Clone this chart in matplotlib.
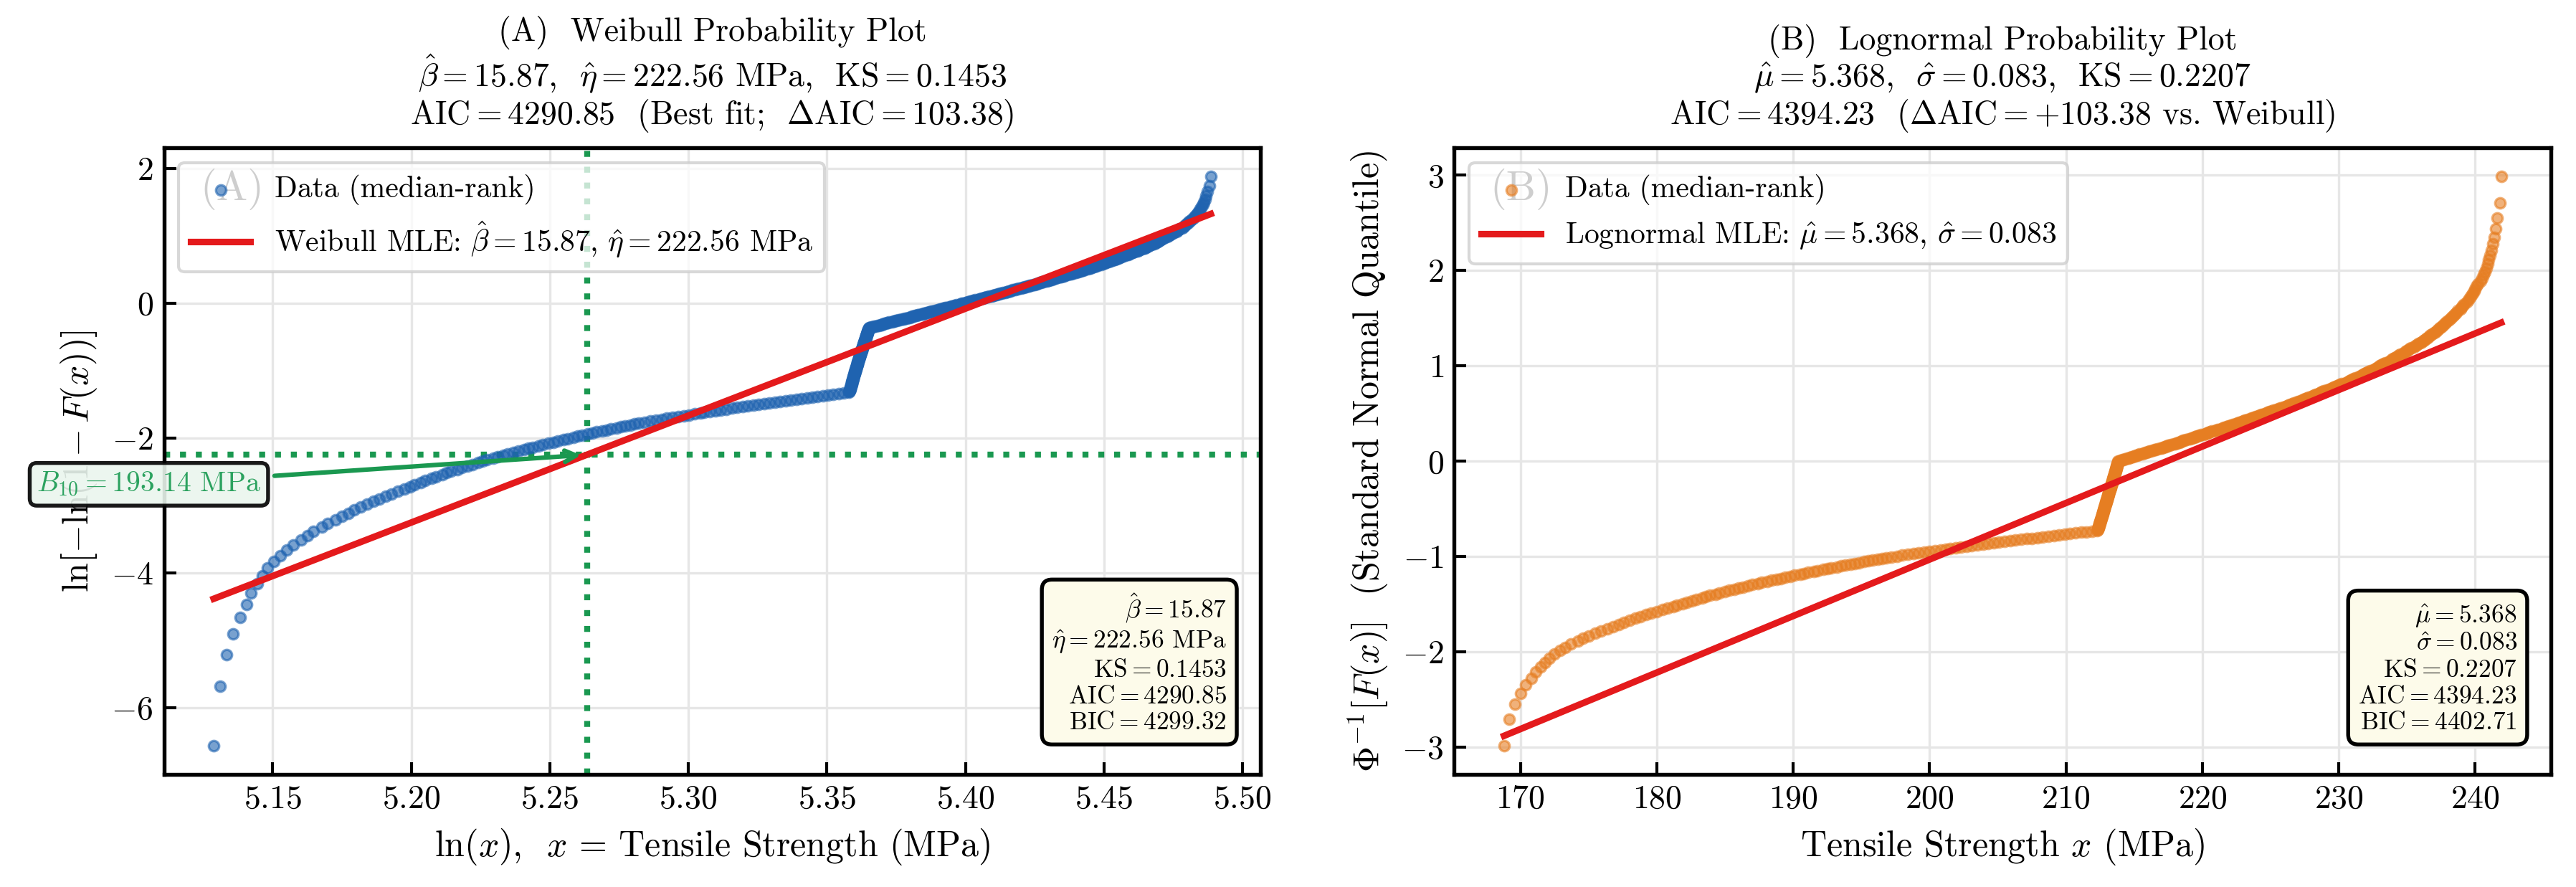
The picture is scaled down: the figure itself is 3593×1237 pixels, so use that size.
from statistics import NormalDist

import matplotlib

matplotlib.use("Agg")
import matplotlib.pyplot as plt
import numpy as np

# sorted tensile strength sample (MPa)
strength_low = [
    168.8, 169.2, 169.6, 170.0, 170.4, 170.8, 171.1, 171.5, 171.8, 172.1,
    172.5, 172.9, 173.3, 173.7, 174.2, 174.6, 175.0, 175.5, 175.9, 176.4,
    176.8, 177.2, 177.6, 178.0, 178.4, 178.8, 179.2, 179.6, 180.0, 180.4,
    180.8, 181.2, 181.5, 181.9, 182.2, 182.6, 182.9, 183.3, 183.6, 183.9,
    184.3, 184.6, 185.0, 185.3, 185.7, 186.0, 186.3, 186.7, 187.0, 187.4,
    187.7, 188.1, 188.4, 188.8, 189.1, 189.4, 189.8, 190.1, 190.5, 190.8,
    191.1, 191.5, 191.8, 192.2, 192.5, 192.8, 193.2, 193.5, 193.8, 194.2,
    194.5, 194.8, 195.2, 195.5, 195.8, 196.2, 196.5, 196.8, 197.2, 197.6,
    198.0, 198.4, 198.8, 199.2, 199.6, 200.0, 200.4, 200.8, 201.2, 201.5,
    201.9, 202.3, 202.7, 203.1, 203.5, 203.9, 204.3, 204.7, 205.1, 205.5,
    205.9, 206.3, 206.7, 207.1, 207.5, 207.9, 208.3, 208.7, 209.1, 209.5,
    209.9, 210.3, 210.7, 211.1, 211.5, 211.9, 212.3,
]
strength_mode = [
    212.31, 212.33, 212.34, 212.36, 212.37, 212.39, 212.40, 212.41, 212.43, 212.44,
    212.45, 212.47, 212.48, 212.49, 212.51, 212.52, 212.53, 212.55, 212.56, 212.57,
    212.58, 212.59, 212.61, 212.62, 212.63, 212.64, 212.66, 212.67, 212.68, 212.69,
    212.70, 212.72, 212.73, 212.74, 212.75, 212.76, 212.78, 212.79, 212.80, 212.81,
    212.82, 212.83, 212.85, 212.86, 212.87, 212.88, 212.89, 212.90, 212.92, 212.93,
    212.94, 212.95, 212.96, 212.97, 212.99, 213.00, 213.01, 213.02, 213.03, 213.04,
    213.05, 213.07, 213.08, 213.09, 213.10, 213.11, 213.12, 213.13, 213.14, 213.16,
    213.17, 213.18, 213.19, 213.20, 213.21, 213.22, 213.23, 213.25, 213.26, 213.27,
    213.28, 213.29, 213.30, 213.31, 213.32, 213.33, 213.34, 213.36, 213.37, 213.38,
    213.39, 213.40, 213.41, 213.42, 213.43, 213.44, 213.45, 213.46, 213.47, 213.48,
    213.50, 213.51, 213.52, 213.53, 213.54, 213.55, 213.56, 213.57, 213.58, 213.59,
    213.60, 213.61, 213.62, 213.63, 213.64, 213.65, 213.66, 213.67, 213.68, 213.69,
    213.70, 213.71, 213.72, 213.73, 213.74, 213.75, 213.76, 213.77, 213.78, 213.79,
    213.80, 213.81, 213.82,
]
strength_high = [
    213.9, 214.0, 214.1, 214.2, 214.3, 214.5, 214.6, 214.7, 214.8, 214.9,
    215.0, 215.1, 215.2, 215.3, 215.4, 215.6, 215.7, 215.8, 215.9, 216.0,
    216.1, 216.2, 216.4, 216.5, 216.6, 216.7, 216.9, 217.0, 217.1, 217.2,
    217.3, 217.4, 217.5, 217.6, 217.7, 217.9, 218.0, 218.1, 218.2, 218.3,
    218.4, 218.5, 218.6, 218.7, 218.8, 219.0, 219.1, 219.2, 219.3, 219.4,
    219.5, 219.6, 219.7, 219.8, 219.9, 220.1, 220.2, 220.3, 220.4, 220.5,
    220.6, 220.7, 220.9, 221.0, 221.1, 221.2, 221.4, 221.5, 221.6, 221.7,
    221.8, 221.9, 222.0, 222.1, 222.2, 222.4, 222.5, 222.6, 222.7, 222.8,
    222.9, 223.0, 223.1, 223.2, 223.3, 223.5, 223.6, 223.7, 223.8, 223.9,
    224.0, 224.1, 224.2, 224.3, 224.4, 224.6, 224.7, 224.8, 224.9, 225.0,
    225.1, 225.2, 225.4, 225.5, 225.6, 225.7, 225.9, 226.0, 226.1, 226.2,
    226.3, 226.4, 226.5, 226.6, 226.7, 226.9, 227.0, 227.1, 227.2, 227.3,
    227.4, 227.5, 227.6, 227.7, 227.8, 228.0, 228.1, 228.2, 228.3, 228.4,
    228.5, 228.6, 228.7, 228.8, 228.9, 229.1, 229.2, 229.3, 229.4, 229.5,
    229.6, 229.7, 229.9, 230.0, 230.1, 230.2, 230.4, 230.5, 230.6, 230.7,
    230.8, 230.9, 231.0, 231.1, 231.2, 231.4, 231.5, 231.6, 231.7, 231.8,
    231.9, 232.0, 232.1, 232.2, 232.3, 232.5, 232.6, 232.7, 232.8, 232.9,
    233.0, 233.1, 233.2, 233.3, 233.4, 233.6, 233.7, 233.8, 233.9, 234.0,
    234.1, 234.2, 234.3, 234.4, 234.5, 234.7, 234.8, 234.9, 235.0, 235.1,
    235.2, 235.3, 235.5, 235.6, 235.7, 235.8, 236.0, 236.1, 236.2, 236.3,
    236.4, 236.5, 236.6, 236.7, 236.8, 237.0, 237.1, 237.2, 237.3, 237.4,
    237.5, 237.6, 237.7, 237.8, 237.9, 238.1, 238.2, 238.3, 238.4, 238.5,
    238.6, 238.7, 238.9, 239.0, 239.1, 239.2, 239.4, 239.5, 239.6, 239.7,
    239.8, 239.9, 240.0, 240.1, 240.2, 240.4, 240.5, 240.6, 240.7, 240.8,
    240.9, 241.0, 241.1, 241.2, 241.3, 241.4, 241.5, 241.6, 241.8, 241.9,
]

# fitted parameters / goodness of fit as printed on the chart
beta_hat, eta_hat = 15.87, 222.56
ks_wb, aic_wb, bic_wb = 0.1453, 4290.85, 4299.32
mu_hat, sigma_hat = 5.368, 0.083
ks_ln, aic_ln, bic_ln = 0.2207, 4394.23, 4402.71
delta_aic = 103.38
b10 = 193.14

BLUE = "#1f63b0"
ORANGE = "#e67e22"
RED = "#e41a1c"
GREEN = "#1a9850"

plt.rcParams.update({
    "font.family": "serif",
    "font.serif": ["cmr10"],
    "mathtext.fontset": "cm",
    "axes.formatter.use_mathtext": True,
    "axes.unicode_minus": True,
    "axes.linewidth": 1.3,
    "xtick.direction": "in",
    "ytick.direction": "in",
    "xtick.major.size": 4,
    "ytick.major.size": 4,
    "xtick.major.width": 1.0,
    "ytick.major.width": 1.0,
    "xtick.labelsize": 11,
    "ytick.labelsize": 11,
})

x = np.sort(np.array(strength_low + strength_mode + strength_high))
n = x.size
rank = np.arange(1, n + 1)
F = (rank - 0.3) / (n + 0.4)  # Benard median rank
y_wb = np.log(-np.log(1.0 - F))
z_ln = np.array([NormalDist().inv_cdf(p) for p in F])

x_ends = np.array([x.min(), x.max()])
line_wb = beta_hat * (np.log(x_ends) - np.log(eta_hat))
line_ln = (np.log(x_ends) - mu_hat) / sigma_hat

fig, (ax1, ax2) = plt.subplots(1, 2, figsize=(3593 / 300, 1237 / 300), dpi=300)
fig.subplots_adjust(left=0.0636, right=0.9903, bottom=0.1269, top=0.8335, wspace=0.1765)

box_kw = dict(boxstyle="round,pad=0.4", fc="#fdfbea", ec="black", lw=1.3)
leg_kw = dict(loc="upper left", fontsize=10, framealpha=0.75, edgecolor="0.8",
              fancybox=True, scatterpoints=1)

# (A) Weibull
ax1.text(0.033, 0.967, "(A)", transform=ax1.transAxes, fontsize=14, color="0.25",
         ha="left", va="top", zorder=1)
ax1.scatter(np.log(x), y_wb, s=12, color=BLUE, alpha=0.6, edgecolors=BLUE,
            linewidths=0.8, label="Data (median-rank)", zorder=3)
ax1.plot(np.log(x_ends), line_wb, color=RED, lw=2.2, zorder=4,
         label=r"Weibull MLE: $\hat{\beta}=15.87$, $\hat{\eta}=222.56$ MPa")
y_b10 = np.log(-np.log(0.9))
ax1.axvline(np.log(b10), color=GREEN, ls=":", lw=2, zorder=2)
ax1.axhline(y_b10, color=GREEN, ls=":", lw=2, zorder=2)
ax1.annotate(r"$B_{10}=193.14$ MPa", xy=(np.log(b10), y_b10),
             xytext=(0.0578, 0.454), textcoords="figure fraction",
             ha="center", va="center", fontsize=9.5, color="#2ca25f",
             bbox=dict(boxstyle="round,pad=0.25", fc="#eaf6ee", ec="black", lw=1.3, alpha=0.9),
             arrowprops=dict(arrowstyle="->", color=GREEN, lw=1.5),
             annotation_clip=False, zorder=6)
ax1.text(0.969, 0.064,
         "\n".join([rf"$\hat{{\beta}}={beta_hat:.2f}$",
                    rf"$\hat{{\eta}}={eta_hat:.2f}$ MPa",
                    rf"$\mathrm{{KS}}={ks_wb:.4f}$",
                    rf"$\mathrm{{AIC}}={aic_wb:.2f}$",
                    rf"$\mathrm{{BIC}}={bic_wb:.2f}$"]),
         transform=ax1.transAxes, ha="right", va="bottom", multialignment="right",
         fontsize=8.5, bbox=box_kw, zorder=6)
ax1.set_title("(A)  Weibull Probability Plot\n"
              rf"$\hat{{\beta}}={beta_hat:.2f}$,  $\hat{{\eta}}={eta_hat:.2f}$ MPa,  $\mathrm{{KS}}={ks_wb:.4f}$" "\n"
              rf"$\mathrm{{AIC}}={aic_wb:.2f}$  (Best fit;  $\Delta\mathrm{{AIC}}={delta_aic:.2f}$)",
              fontsize=11, pad=8, linespacing=1.1)
ax1.set_xlabel(r"$\ln(x)$,  $x$ = Tensile Strength (MPa)", fontsize=12)
ax1.set_ylabel(r"$\ln[-\ln(1-F(x))]$", fontsize=12)
ax1.set_xticks([5.15, 5.20, 5.25, 5.30, 5.35, 5.40, 5.45, 5.50])
ax1.set_yticks([-6, -4, -2, 0, 2])
ax1.legend(**leg_kw)

# (B) Lognormal
ax2.text(0.033, 0.967, "(B)", transform=ax2.transAxes, fontsize=14, color="0.25",
         ha="left", va="top", zorder=1)
ax2.scatter(x, z_ln, s=12, color=ORANGE, alpha=0.6, edgecolors=ORANGE,
            linewidths=0.8, label="Data (median-rank)", zorder=3)
ax2.plot(x_ends, line_ln, color=RED, lw=2.2, zorder=4,
         label=r"Lognormal MLE: $\hat{\mu}=5.368$, $\hat{\sigma}=0.083$")
ax2.text(0.969, 0.064,
         "\n".join([rf"$\hat{{\mu}}={mu_hat:.3f}$",
                    rf"$\hat{{\sigma}}={sigma_hat:.3f}$",
                    rf"$\mathrm{{KS}}={ks_ln:.4f}$",
                    rf"$\mathrm{{AIC}}={aic_ln:.2f}$",
                    rf"$\mathrm{{BIC}}={bic_ln:.2f}$"]),
         transform=ax2.transAxes, ha="right", va="bottom", multialignment="right",
         fontsize=8.5, bbox=box_kw, zorder=6)
ax2.set_title("(B)  Lognormal Probability Plot\n"
              rf"$\hat{{\mu}}={mu_hat:.3f}$,  $\hat{{\sigma}}={sigma_hat:.3f}$,  $\mathrm{{KS}}={ks_ln:.4f}$" "\n"
              rf"$\mathrm{{AIC}}={aic_ln:.2f}$  ($\Delta\mathrm{{AIC}}=+{delta_aic:.2f}$ vs. Weibull)",
              fontsize=11, pad=8, linespacing=1.1)
ax2.set_xlabel(r"Tensile Strength $x$ (MPa)", fontsize=12)
ax2.set_ylabel(r"$\Phi^{-1}[F(x)]$  (Standard Normal Quantile)", fontsize=12)
ax2.set_xticks([170, 180, 190, 200, 210, 220, 230, 240])
ax2.set_yticks([-3, -2, -1, 0, 1, 2, 3])
ax2.legend(**leg_kw)

for ax in (ax1, ax2):
    ax.grid(True, color="0.9", lw=0.8)
    ax.set_axisbelow(True)
    ax.tick_params(top=False, right=False)

fig.savefig("out.png", dpi=300)
